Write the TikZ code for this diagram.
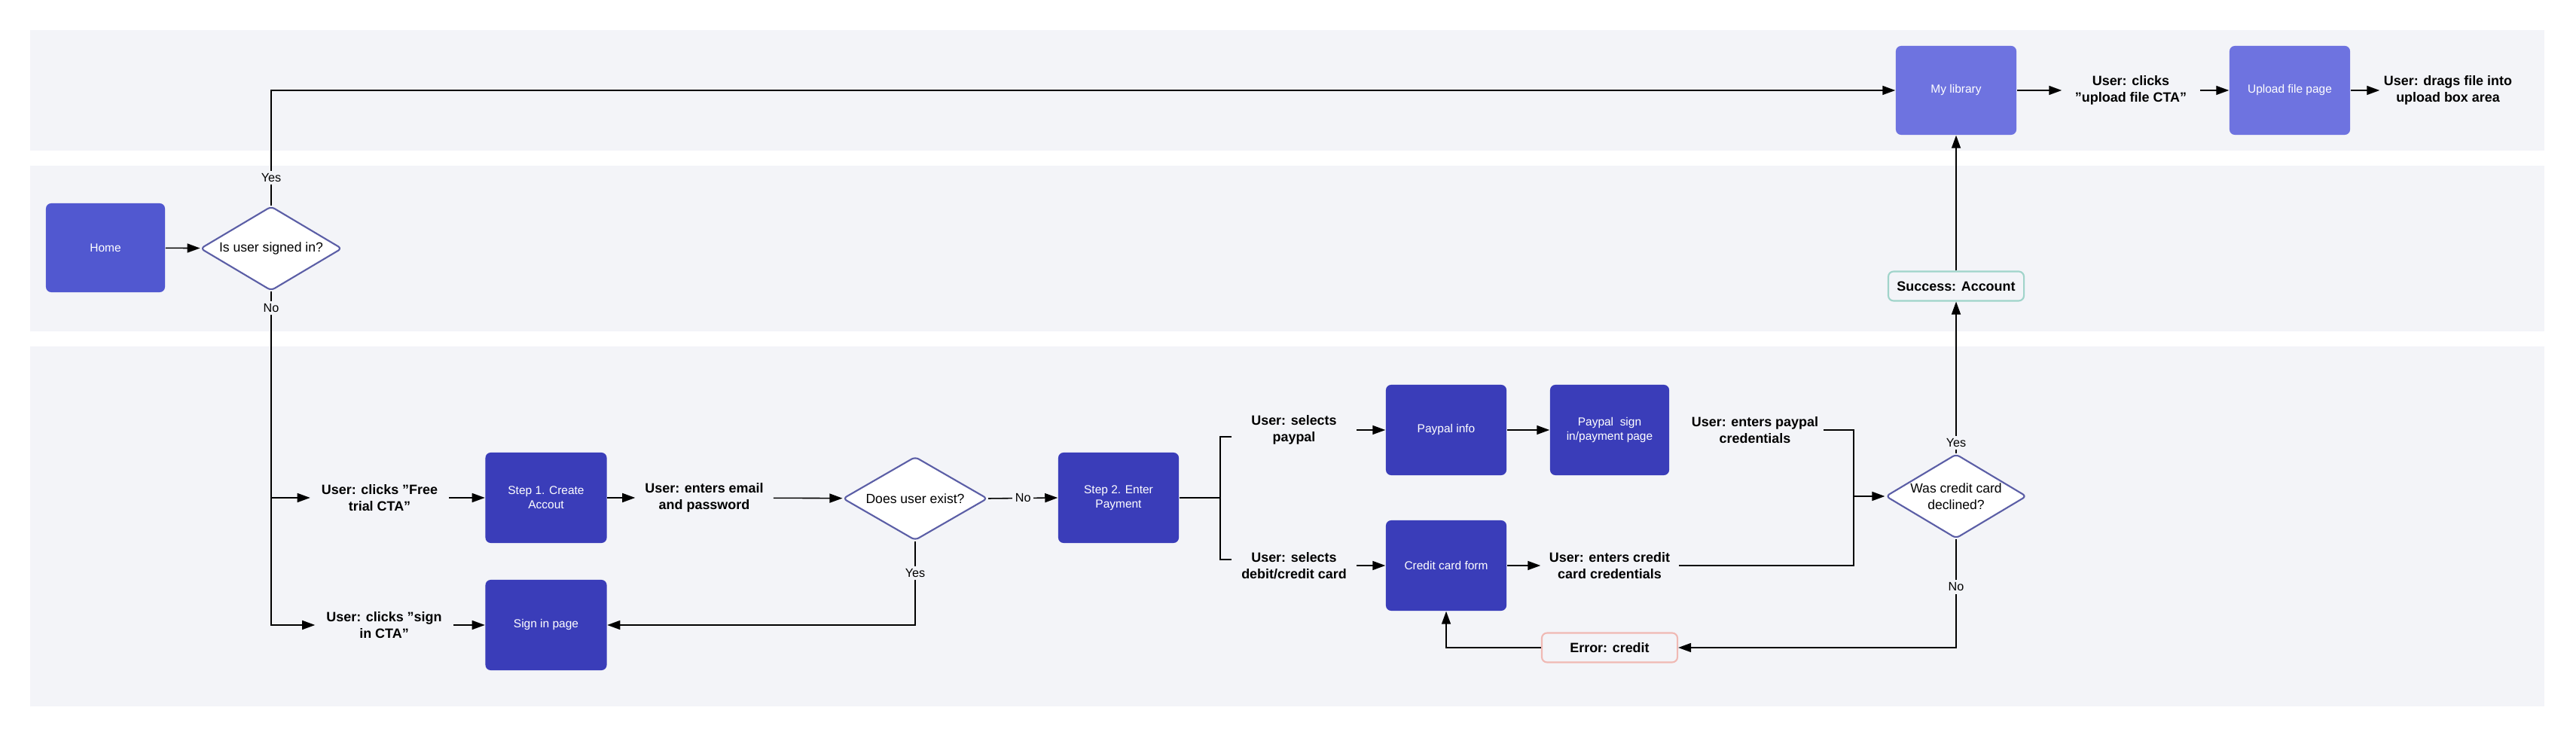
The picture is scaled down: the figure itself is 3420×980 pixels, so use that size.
\documentclass[tikz,border=0pt]{standalone}
\usepackage{fontspec}
\setmainfont{Liberation Sans}
\usetikzlibrary{shapes.geometric,arrows.meta}
\definecolor{bandc}{RGB}{243,244,248}
\definecolor{homeblue}{RGB}{81,88,208}
\definecolor{darkblue}{RGB}{58,61,185}
\definecolor{lightblue}{RGB}{110,115,224}
\definecolor{decborder}{RGB}{91,94,166}
\definecolor{okborder}{RGB}{160,212,202}
\definecolor{errborder}{RGB}{240,185,180}
\newcommand{\boxfont}{\fontsize{4.4pt}{5.4pt}\selectfont}
\newcommand{\labfont}{\fontsize{5.1pt}{6.1pt}\selectfont\bfseries}
\newcommand{\decfont}{\fontsize{5.0pt}{6.3pt}\selectfont}
\newcommand{\ynfont}{\fontsize{4.6pt}{5.5pt}\selectfont}
\tikzset{
  box/.style={rectangle, rounded corners=2pt, text=white, align=center, font=\boxfont,
    minimum width=1.6cm, minimum height=1.2cm, inner sep=0pt},
  homebox/.style={box, fill=homeblue, minimum width=1.58cm, minimum height=1.18cm},
  darkbox/.style={box, fill=darkblue},
  lightbox/.style={box, fill=lightblue, minimum height=1.18cm},
  dec/.style={diamond, draw=decborder, fill=white, line width=0.6pt, aspect=1.68,
    inner sep=0pt, align=center, font=\decfont, rounded corners=1.5pt},
  lab/.style={align=center, font=\labfont, inner sep=0pt, minimum width=1.82cm},
  status/.style={rectangle, rounded corners=2pt, line width=0.6pt, font=\labfont,
    fill=bandc, minimum width=1.8cm, minimum height=0.39cm, inner sep=0pt},
  conn/.style={line width=0.45pt, -{Triangle[length=0.17cm,width=0.12cm]}},
  plain/.style={line width=0.45pt},
  yn/.style={fill=bandc, font=\ynfont, inner sep=1pt},
}
\begin{document}
\begin{tikzpicture}[x=0.01cm,y=-0.01cm]
\useasboundingbox (0,0) rectangle (3420,980);
\fill[white] (0,0) rectangle (3420,980);
% lanes
\fill[bandc] (40,40) rectangle (3378,200);
\fill[bandc] (40,220) rectangle (3378,440);
\fill[bandc] (40,460) rectangle (3378,938);

% top lane
\node[lightbox] (mylib) at (2597,120) {My library};
\node[lab] (clickup) at (2829,120) {User: clicks\\"upload file CTA"};
\node[lightbox] (upload) at (3040,120) {Upload file page};
\node[lab, minimum width=1.8cm] (drags) at (3250,120) {User: drags file into\\upload box area};

% middle lane
\node[homebox] (home) at (140,329) {Home};
\node[dec, minimum width=1.88cm, minimum height=1.12cm] (d1) at (360,330) {Is user signed in?};
\node[status, draw=okborder] (success) at (2597,380) {Success: Account};

% bottom lane
\node[lab, minimum width=1.83cm] (free) at (504,661) {User: clicks "Free\\trial CTA"};
\node[darkbox, minimum width=1.61cm] (step1) at (725,661) {Step 1. Create\\Accout};
\node[lab] (email) at (935,661) {User: enters email\\and password};
\node[dec, minimum width=1.92cm, minimum height=1.11cm] (d2) at (1215,662) {Does user exist?};
\node[darkbox] (step2) at (1485,661) {Step 2. Enter\\Payment};
\node[lab] (signcta) at (510,830) {User: clicks "sign\\in CTA"};
\node[darkbox, minimum width=1.61cm] (signin) at (725,830) {Sign in page};

\node[lab, minimum width=1.64cm] (selpaypal) at (1718,571) {User: selects\\paypal};
\node[darkbox] (paypalinfo) at (1920,571) {Paypal info};
\node[darkbox, minimum width=1.58cm] (paypalsign) at (2137,571) {Paypal\ \ sign\\in/payment page};
\node[lab, minimum width=1.8cm] (paypalcred) at (2330,571) {User: enters paypal\\credentials};
\node[lab, minimum width=1.64cm] (selcard) at (1718,751) {User: selects\\debit/credit card};
\node[darkbox] (ccform) at (1920,751) {Credit card form};
\node[lab] (cccred) at (2137,751) {User: enters credit\\card credentials};
\node[status, draw=errborder] (error) at (2137,860) {Error: credit};
\node[dec, minimum width=1.87cm, minimum height=1.12cm] (d3) at (2597,659) {Was credit card\\declined?};

% helper coordinates
\coordinate (nb) at (360,661);
\coordinate (bm) at (1620,661);
\coordinate (bt) at (1620,580);
\coordinate (bb) at (1620,743);
\coordinate (jn) at (2461,659);

% connectors
\draw[conn] (home) -- (d1);
\draw[conn] (d1.north) |- (mylib.west) node[yn, pos=0.12] {Yes};
\draw[plain] (d1.south) -- (nb) node[yn, pos=0.08] {No};
\draw[conn] (nb) -- (free.west);
\draw[conn] (nb) |- (signcta.west);
\draw[conn] (free) -- (step1);
\draw[conn] (signcta) -- (signin);
\draw[conn] (step1) -- (email);
\draw[conn] (email) -- (d2);
\draw[conn] (d2.east) -- (step2.west) node[yn, midway] {No};
\draw[conn] (d2.south) |- (signin.east) node[yn, pos=0.19] {Yes};
\draw[plain] (step2.east) -- (bm);
\draw[plain] (selpaypal.west |- bt) -- (bt) -- (bb) -- (selcard.west |- bb);
\draw[conn] (selpaypal) -- (paypalinfo);
\draw[conn] (paypalinfo) -- (paypalsign);
\draw[conn] (selcard) -- (ccform);
\draw[conn] (ccform) -- (cccred);
\draw[plain] (paypalcred.east) -| (jn);
\draw[plain] (cccred.east) -| (jn);
\draw[conn] (jn) -- (d3.west);
\draw[conn] (d3.north) -- (success.south) node[yn, pos=0.07] {Yes};
\draw[conn] (success.north) -- (mylib.south);
\draw[conn] (d3.south) |- (error.east) node[yn, pos=0.22] {No};
\draw[conn] (error.west) -| (ccform.south);
\draw[conn] (mylib) -- (clickup);
\draw[conn] (clickup) -- (upload);
\draw[conn] (upload) -- (drags);
\end{tikzpicture}
\end{document}
